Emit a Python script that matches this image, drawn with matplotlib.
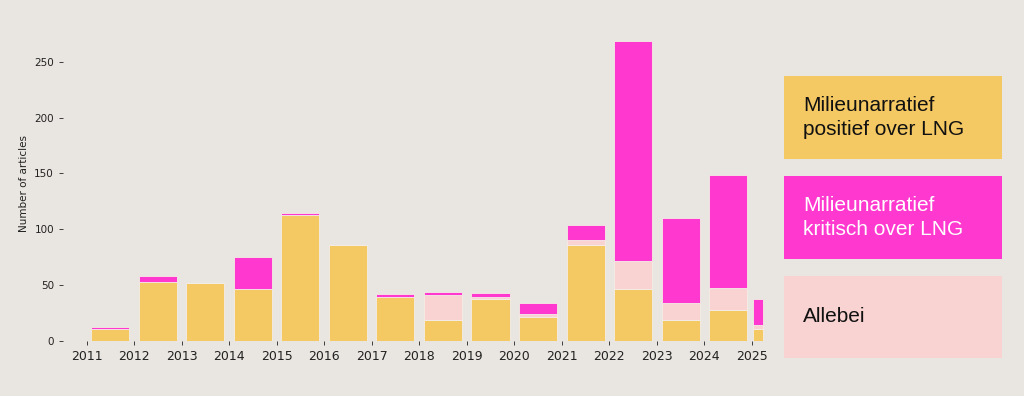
import numpy as np
import matplotlib.pyplot as plt
from matplotlib.patches import Rectangle

# Data
years = [2011, 2012, 2013, 2014, 2015, 2016, 2017, 2018, 2019, 2020, 2021, 2022, 2023, 2024, 2025]
positief = [11, 53, 52, 47, 113, 86, 40, 19, 38, 22, 86, 47, 19, 28, 11]
allebei = [0, 0, 0, 0, 0, 0, 0, 22, 2, 2, 5, 25, 15, 20, 4]
kritisch = [2, 5, 0, 28, 2, 0, 2, 3, 3, 10, 13, 196, 76, 101, 23]
# 2025 only covers part of the year
year_fraction = [1, 1, 1, 1, 1, 1, 1, 1, 1, 1, 1, 1, 1, 1, 0.25]

labels = ['Milieunarratief\npositief over LNG', 'Milieunarratief\nkritisch over LNG', 'Allebei']
colors = ['#F4C862', '#FF38D0', '#F9D2D2']
text_colors = ['#111111', '#FFFFFF', '#111111']
bg = '#E9E5E0'

plt.rcParams['font.family'] = ['DejaVu Sans']

fig = plt.figure(figsize=(10.24, 3.96), dpi=100, facecolor=bg)
ax = fig.add_axes([0.0615, 0.138, 0.6912, 0.797], facecolor=bg)

years = np.array(years)
frac = np.array(year_fraction)
left = years + np.where(frac < 1, 0.03, 0.1)
width = np.where(frac < 1, 0.2, 0.8)
pos = np.array(positief)
both = np.array(allebei)
krit = np.array(kritisch)

ax.bar(left, pos, width=width, align='edge', color=colors[0], edgecolor='#F3EDE6', linewidth=0.6)
ax.bar(left, both, width=width, bottom=pos, align='edge', color=colors[2], edgecolor='#F3EDE6', linewidth=0.6)
ax.bar(left, krit, width=width, bottom=pos + both, align='edge', color=colors[1], edgecolor='#F3EDE6', linewidth=0.6)

ax.set_xlim(2010.5, 2025.4)
ax.set_ylim(0, 282)
ax.set_xticks(years)
ax.set_xticklabels([str(y) for y in years], fontsize=9, color='#222222')
ax.set_yticks([0, 50, 100, 150, 200, 250])
ax.tick_params(axis='y', labelsize=7.5, colors='#222222', length=3, width=0.6)
ax.tick_params(axis='x', length=3, width=0.6, colors='#222222')
ax.set_ylabel('Number of articles', fontsize=7.5, color='#222222')
for s in ax.spines.values():
    s.set_visible(False)

# legend boxes on the right
boxes = [(76, 159), (176, 259), (276, 358)]
W, H = 1024, 396
for (top, bottom), lab, c, tc in zip(boxes, labels, colors, text_colors):
    fig.patches.append(Rectangle((784 / W, 1 - bottom / H), 218 / W, (bottom - top) / H,
                                 transform=fig.transFigure, facecolor=c, edgecolor='none'))
    fig.text(803 / W, 1 - (top + bottom) / 2 / H, lab, fontsize=15, color=tc,
             family=['Liberation Sans', 'DejaVu Sans'], va='center', ha='left', linespacing=1.3)

plt.savefig('out.png', dpi=100, facecolor=bg)
